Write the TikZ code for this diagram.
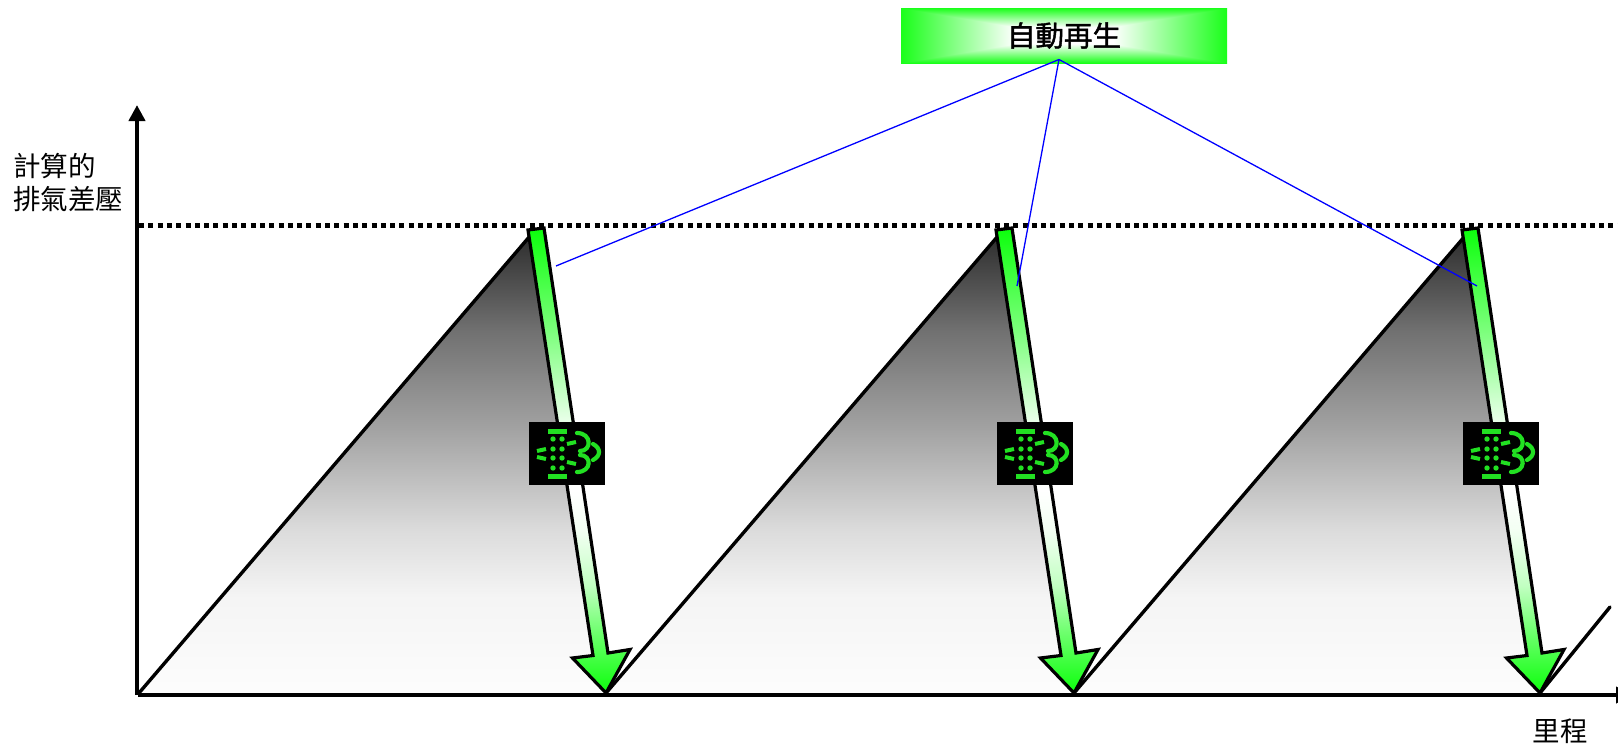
\documentclass[tikz,border=0pt]{standalone}
\usepackage{fontspec}
\setmainfont{Noto Sans CJK TC}
\newfontfamily\titlefont[FakeBold=1.5]{Noto Sans CJK TC}
\usetikzlibrary{arrows.meta}
\definecolor{lit}{HTML}{22E022}
\definecolor{ag}{HTML}{0CFF0C}
\pgfdeclarefunctionalshading{boxglow}{\pgfpointorigin}{\pgfpoint{100bp}{100bp}}{}{
 50 sub abs 25 div exch 50 sub abs 25 div 2 copy lt {exch} if pop
 0.3 sub 0.7 div dup 0 lt {pop 0} if
 0.9 mul 1 exch sub dup 1 exch
}
\pgfdeclareverticalshading{sawgrad}{100bp}{
 color(0bp)=(white); color(25bp)=(black!1); color(35.3bp)=(black!4); color(42.6bp)=(black!14);
 color(53.3bp)=(black!36); color(64.1bp)=(black!56); color(75bp)=(black!84); color(100bp)=(black!84)}
\pgfdeclareverticalshading{regengrad}{100bp}{
 color(0bp)=(ag); color(25bp)=(ag); color(31.2bp)=(ag!62!white); color(36.6bp)=(ag!25!white);
 color(42.5bp)=(ag!5!white); color(46.8bp)=(white); color(54.4bp)=(ag!10!white);
 color(63.5bp)=(ag!52!white); color(75bp)=(ag); color(100bp)=(ag)}
\tikzset{
 axisline/.style={line width=4.5pt,-{Triangle[length=16pt,width=16pt]}},
 saw/.style={line width=3.4pt,line cap=round},
 limit/.style={line width=4.5pt,dash pattern=on 5pt off 4.3pt},
 callout/.style={blue,line width=1.3pt},
 label/.style={font=\fontsize{27.5}{33}\selectfont,align=left,inner sep=0pt},
 titlebox/.style={shade,shading=boxglow,minimum width=326pt,minimum height=55pt,inner sep=0pt,font=\titlefont\fontsize{28.5}{30}\selectfont},
 iconbox/.style={fill=black,minimum width=76pt,minimum height=63pt,inner sep=0pt},
 bar/.style={lit,line width=5pt},
 tick/.style={lit,line width=4pt},
 curl/.style={lit,line width=4.2pt,line cap=round},
 filter/.pic={
  \foreach \dx in {24,33}\foreach \dy in {17,27,36,46}\fill[lit] (\dx,\dy) circle (2.7pt);
  \draw[bar] (19,9)--(38,9); \draw[bar] (19,54)--(38,54);
  \draw[tick] (8,29)--(17,27); \draw[tick] (8,35)--(17,37);
  \draw[tick] (38,22)--(47,20); \draw[tick] (38,40)--(47,42);
  \draw[curl] (48,11) .. controls (63,11) and (63,29) .. (51,29);
  \draw[curl] (48,50) .. controls (63,50) and (63,33) .. (51,33);
  \draw[curl] (64,22) .. controls (72,26) and (72,34) .. (64,38);
 },
 regen/.pic={
  \shade[draw=black,line width=3.2pt,miter limit=10,shading=regengrad]
   (-78,-463)--(-62,-465)--(2,-40)--(24,-43.5)--(0,0)--(-33.5,-35)--(-13,-37.5)--cycle;
 }
}
\begin{document}
\begin{tikzpicture}[x=1pt,y=-1pt]
\useasboundingbox (0,0) rectangle (1618,744);
% coordinates
\coordinate (o) at (137,695);
\coordinate (ytop) at (137,105);
\coordinate (xs) at (138,695);
\coordinate (xe) at (1632,695);
\coordinate (ls) at (139,225.5);
\coordinate (le) at (1632,225.5);
\coordinate (a1) at (537,229); \coordinate (b1) at (606,693);
\coordinate (a2) at (1003,229); \coordinate (b2) at (1074,693);
\coordinate (a3) at (1470,229); \coordinate (b3) at (1540,693);
\coordinate (e1) at (530,236); \coordinate (e2) at (998,236); \coordinate (e3) at (1465,236);
\coordinate (rise) at (1610,607);
\coordinate (s) at (139,693);
% sawtooth fills
\shade[shading=sawgrad] (s)--(a1)--(b1)--cycle;
\shade[shading=sawgrad] (b1)--(a2)--(b2)--cycle;
\shade[shading=sawgrad] (b2)--(a3)--(b3)--cycle;
\draw[limit] (ls)--(le);
\draw[saw] (s)--(e1);
\draw[saw] (b1)--(e2);
\draw[saw] (b2)--(e3);
\draw[saw] (b3)--(rise);
% arrows
\pic at (b1) {regen};
\pic at (b2) {regen};
\pic at (b3) {regen};
% axes
\draw[axisline] (xs)--(xe);
\draw[axisline] (o)--(ytop);
% icons
\node[iconbox,anchor=north west] (ic1) at (529,422) {};
\node[iconbox,anchor=north west] (ic2) at (997,422) {};
\node[iconbox,anchor=north west] (ic3) at (1463,422) {};
\pic at (ic1.north west) {filter};
\pic at (ic2.north west) {filter};
\pic at (ic3.north west) {filter};
% title
\node[titlebox] (title) at (1064,35.5) {自動再生};
\coordinate (hub) at (1059,59.5);
\coordinate (c1) at (556,266);
\coordinate (c2) at (1017,286);
\coordinate (c3) at (1477,286);
\draw[callout] (hub)--(c1);
\draw[callout] (hub)--(c2);
\draw[callout] (hub)--(c3);
% labels
\node[label,anchor=north west] (ylab) at (13,153) {計算的\\排氣差壓};
\node[label,anchor=center] (xlab) at (1560,731) {里程};
\end{tikzpicture}
\end{document}
